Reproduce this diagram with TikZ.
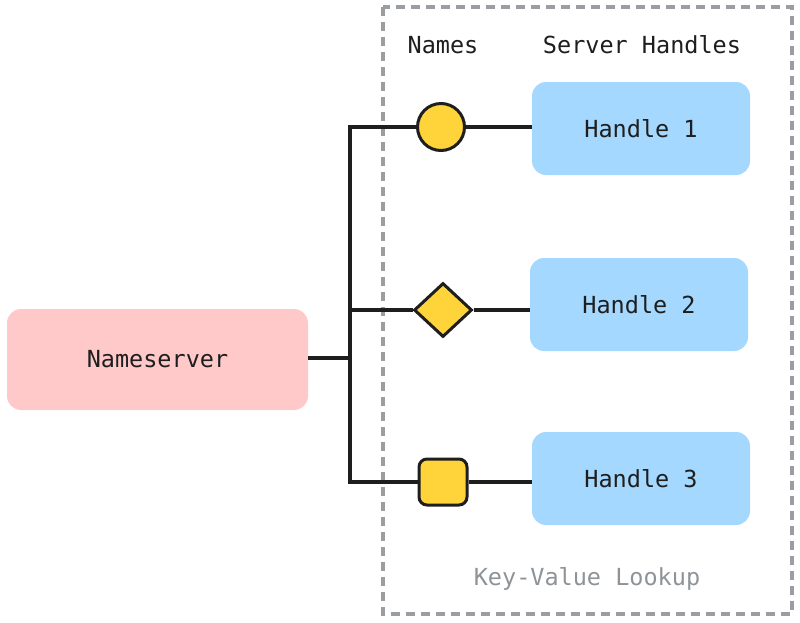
\documentclass[tikz,border=0pt]{standalone}
\usepackage{fontspec}
\setmonofont{DejaVu Sans Mono}
\usetikzlibrary{shapes.geometric}
\definecolor{ink}{HTML}{1E1E1E}
\definecolor{pinkfill}{HTML}{FFC9C9}
\definecolor{bluefill}{HTML}{A5D8FF}
\definecolor{yel}{HTML}{FFD43B}
\definecolor{frame}{HTML}{9A9EA2}
\definecolor{kvtext}{HTML}{8E9398}
\begin{document}
\begin{tikzpicture}[x=1pt,y=-1pt,
  lbl/.style={font=\ttfamily\fontsize{23.5}{28}\selectfont, text=ink},
  hbox/.style={fill=bluefill, rounded corners=14pt, minimum width=218pt, minimum height=93pt, inner sep=0pt, lbl},
  nsbox/.style={fill=pinkfill, rounded corners=14pt, minimum width=301pt, minimum height=101pt, inner sep=0pt, lbl},
  wire/.style={draw=ink, line width=3.2pt},
  shp/.style={draw=ink, fill=yel, line width=3pt, inner sep=0pt}]
\useasboundingbox (0,0) rectangle (800,622);
\draw[frame, line width=3.2pt, dash pattern=on 9pt off 6pt] (383,7) rectangle (792,614);
\node[lbl] (tnames) at (443,45) {Names};
\node[lbl] (tsh) at (642,45) {Server Handles};
\node[lbl, text=kvtext] (tkv) at (587,579) {Key-Value Lookup};
\node[nsbox] (ns) at (157.5,359.5) {Nameserver};
\node[hbox] (h1) at (641,128.5) {Handle 1};
\node[hbox] (h2) at (639,304.5) {Handle 2};
\node[hbox] (h3) at (641,478.5) {Handle 3};
\node[shp, circle, minimum size=47pt] (c) at (441,127) {};
\node[shp, diamond, minimum width=58pt, minimum height=54pt] (d) at (443,310) {};
\node[shp, rounded corners=8pt, minimum width=48pt, minimum height=46pt] (s) at (443,482) {};
\coordinate (j) at (350,358);
\coordinate (jt) at (350,127);
\coordinate (jm) at (350,310);
\coordinate (jb) at (350,482);
\draw[wire] (ns.east |- j) -- (j);
\draw[wire] (c.west) -- (jt) -- (jb) -- (s.west);
\draw[wire] (jm) -- (d.west);
\draw[wire] (c.east) -- (h1.west |- c.east);
\draw[wire] (d.east) -- (h2.west |- d.east);
\draw[wire] (s.east) -- (h3.west |- s.east);
\end{tikzpicture}
\end{document}
